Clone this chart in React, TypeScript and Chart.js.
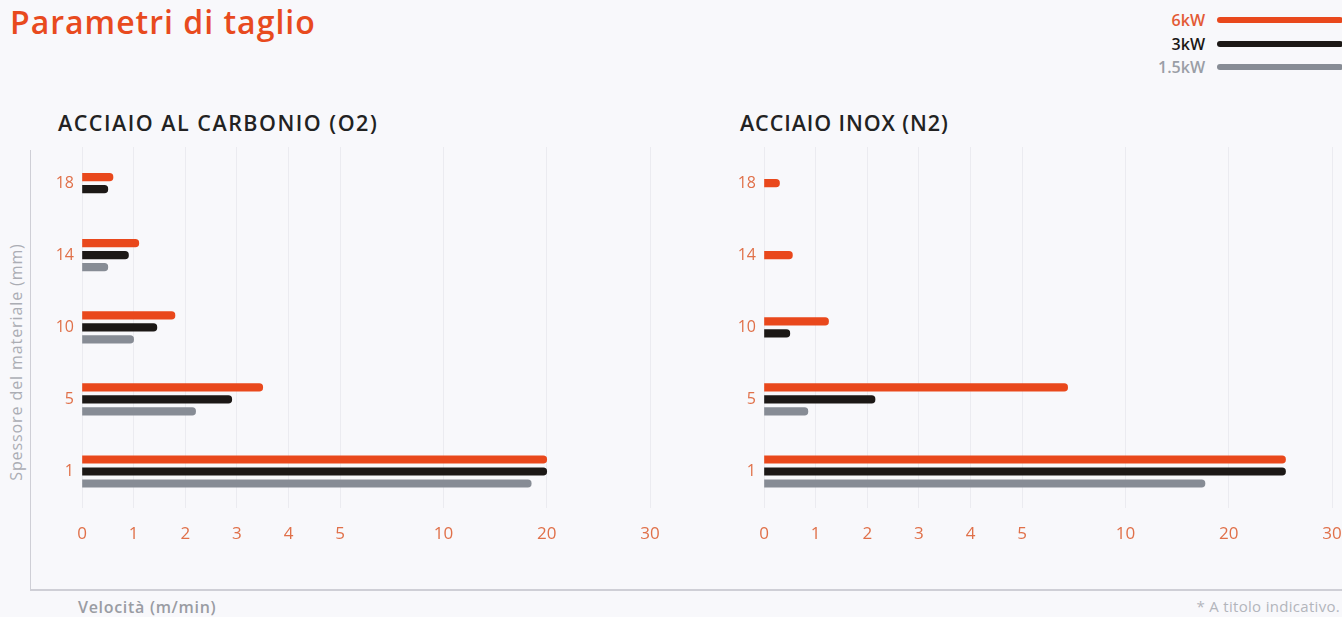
import React, { useEffect, useRef } from "react";
import { Chart, registerables } from "chart.js";

Chart.register(...registerables);

// ---- data ----
const thicknessLabels = ["18", "14", "10", "5", "1"];
const seriesNames = ["6kW", "3kW", "1.5kW"];
const seriesColors = ["#e9481c", "#1c1816", "#878c95"];
const legendTextColors = ["#e35a35", "#1c1816", "#9a9ea6"];

const carbon6kW = [0.6, 1.1, 1.8, 3.5, 20];
const carbon3kW = [0.5, 0.9, 1.45, 2.9, 20];
const carbon1_5kW = [null, 0.5, 1.0, 2.2, 18.5];

const inox6kW = [0.3, 0.55, 1.25, 7.2, 25.5];
const inox3kW = [null, null, 0.5, 2.15, 25.5];
const inox1_5kW = [null, null, null, 0.85, 17.7];

const speedTicks = [0, 1, 2, 3, 4, 5, 10, 20, 30];

// piecewise axis: 0..5 linear, then each further tick one double step
function toAxis(v: number | null): number | null {
  if (v === null) return null;
  if (v <= 5) return v;
  if (v <= 10) return 5 + ((v - 5) / 5) * 2;
  if (v <= 20) return 7 + ((v - 10) / 10) * 2;
  return 9 + ((v - 20) / 10) * 2;
}
const tickPositions = speedTicks.map((t) => toAxis(t) as number);

const TICK_COLOR = "#e07049";
const FONT = "'Open Sans', 'Noto Sans', sans-serif";

function BarPanel({ values }: { values: (number | null)[][] }) {
  const ref = useRef<HTMLCanvasElement>(null);
  useEffect(() => {
    if (!ref.current) return;
    const chart = new Chart(ref.current, {
      type: "bar",
      data: {
        labels: thicknessLabels,
        datasets: values.map((vals, i) => ({
          label: seriesNames[i],
          data: vals.map(toAxis),
          backgroundColor: seriesColors[i],
          borderRadius: 4,
          borderSkipped: "start",
          barThickness: 12,
          maxBarThickness: 7.5,
          skipNull: true,
        })) as any,
      },
      options: {
        indexAxis: "y",
        animation: false,
        responsive: false,
        maintainAspectRatio: false,
        layout: { padding: { top: 7, right: 9, left: 0, bottom: 0 } },
        plugins: { legend: { display: false }, tooltip: { enabled: false } },
        scales: {
          y: {
            type: "category",
            grid: { display: false, drawTicks: false },
            border: { display: false },
            ticks: { color: TICK_COLOR, font: { family: FONT, size: 16 }, padding: 8 },
            afterFit: (s: any) => {
              s.width = 42;
              s.paddingTop = 0;
              s.paddingBottom = 0;
            },
          },
          x: {
            type: "linear",
            min: 0,
            max: 11,
            grid: { color: "#ebebf0", lineWidth: 1, drawTicks: false },
            border: { display: false },
            afterBuildTicks: (s: any) => {
              s.ticks = tickPositions.map((v) => ({ value: v }));
            },
            afterFit: (s: any) => {
              s.paddingRight = 0;
              s.paddingLeft = 0;
            },
            ticks: {
              color: TICK_COLOR,
              font: { family: FONT, size: 17 },
              padding: 16,
              autoSkip: false,
              maxRotation: 0,
              callback: (v: any) => {
                const i = tickPositions.indexOf(Number(v));
                return i >= 0 ? String(speedTicks[i]) : "";
              },
            },
          },
        },
      },
    });
    return () => chart.destroy();
  }, []);
  return <canvas ref={ref} width={619} height={420} style={{ width: 619, height: 420 }} />;
}

export default function App() {
  return (
    <div
      style={{
        position: "fixed",
        left: 0,
        top: 0,
        width: 1342,
        height: 617,
        background: "#f8f8fb",
        overflow: "hidden",
        fontFamily: FONT,
      }}
    >
      <div
        style={{
          position: "absolute",
          left: 10,
          top: 0,
          fontSize: 32,
          fontWeight: 600,
          color: "#e84a1e",
          letterSpacing: 1,
        }}
      >
        Parametri di taglio
      </div>

      {seriesNames.map((n, i) => (
        <div key={n}>
          <div
            style={{
              position: "absolute",
              right: 1342 - 1205,
              top: 10 + i * 23.5,
              fontSize: 16,
              fontWeight: 600,
              color: legendTextColors[i],
              lineHeight: "20px",
            }}
          >
            {n}
          </div>
          <div
            style={{
              position: "absolute",
              left: 1217,
              top: 17 + i * 23.5,
              width: 126,
              height: 6,
              borderRadius: 3,
              background: seriesColors[i],
            }}
          />
        </div>
      ))}

      <div style={{ position: "absolute", left: 58, top: 108, fontSize: 21.5, fontWeight: 600, color: "#222", letterSpacing: 1.5 }}>
        ACCIAIO AL CARBONIO (O2)
      </div>
      <div style={{ position: "absolute", left: 740, top: 108, fontSize: 21.5, fontWeight: 600, color: "#222", letterSpacing: 0.9 }}>
        ACCIAIO INOX (N2)
      </div>

      <div style={{ position: "absolute", left: 30, top: 150, width: 1, height: 440, background: "#cfcfd6" }} />
      <div style={{ position: "absolute", left: 30, top: 589, width: 1312, height: 1.5, background: "#cfcfd6" }} />

      <div
        style={{
          position: "absolute",
          left: 16,
          top: 362,
          transform: "translate(-50%, -50%) rotate(-90deg)",
          whiteSpace: "nowrap",
          fontSize: 16,
          color: "#abadb4",
          letterSpacing: 0.9,
        }}
      >
        Spessore del materiale (mm)
      </div>

      <div style={{ position: "absolute", left: 78, top: 596, fontSize: 16, fontWeight: 600, color: "#9a9ca3", letterSpacing: 0.7 }}>
        Velocità (m/min)
      </div>
      <div style={{ position: "absolute", right: 2, top: 596, fontSize: 15, color: "#b3b5bb", letterSpacing: 0.3 }}>
        * A titolo indicativo.
      </div>

      <div style={{ position: "absolute", left: 40, top: 140 }}>
        <BarPanel values={[carbon6kW, carbon3kW, carbon1_5kW]} />
      </div>
      <div style={{ position: "absolute", left: 722, top: 140 }}>
        <BarPanel values={[inox6kW, inox3kW, inox1_5kW]} />
      </div>
    </div>
  );
}
